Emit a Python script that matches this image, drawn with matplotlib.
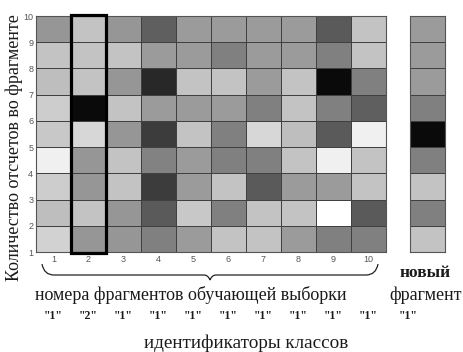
import numpy as np
import matplotlib
matplotlib.use("Agg")
import matplotlib.pyplot as plt
from matplotlib.patches import Rectangle, PathPatch
from matplotlib.path import Path

# gray level (0..255) of each cell, rows from top (10-9) to bottom (2-1), one list per fragment
fragments = [
    [150, 195, 190, 205, 200, 240, 205, 190, 210],
    [195, 195, 195, 10, 215, 150, 150, 195, 150],
    [150, 195, 150, 195, 150, 195, 195, 150, 150],
    [95, 155, 40, 155, 60, 130, 60, 90, 128],
    [155, 155, 195, 155, 195, 155, 155, 200, 155],
    [155, 128, 195, 155, 128, 128, 195, 128, 195],
    [155, 155, 155, 128, 215, 128, 90, 195, 195],
    [155, 155, 195, 195, 190, 195, 155, 195, 155],
    [90, 128, 10, 128, 90, 240, 155, 255, 128],
    [195, 195, 128, 95, 240, 195, 195, 90, 128],
]
new_fragment = [155, 155, 155, 128, 10, 128, 195, 128, 195]
class_ids = ["1", "2", "1", "1", "1", "1", "1", "1", "1", "1"]
new_class_id = "1"
selected = 2

W, H = 464, 352
fig = plt.figure(figsize=(W / 100, H / 100), dpi=100)
serif = "Liberation Serif"
sans = "Liberation Sans"

def px_axes(x0, y0, x1, y1):
    return fig.add_axes([x0 / W, 1 - y1 / H, (x1 - x0) / W, (y1 - y0) / H])

grid = np.array(fragments).T[::-1]  # rows bottom->top
ax = px_axes(36, 16, 386, 252)
xe = np.arange(0.5, len(fragments) + 1, 1.0)
ye = np.arange(1, 11)
ax.pcolormesh(xe, ye, grid, cmap="gray", vmin=0, vmax=255,
              edgecolors="#404040", linewidth=0.6)
ax.set_xlim(0.5, 10.5)
ax.set_ylim(1, 10)
ax.set_xticks(range(1, 11))
ax.set_yticks(range(1, 11))
ax.tick_params(length=0, labelsize=6.5, labelcolor="#555555", pad=2)
for lab in ax.get_xticklabels() + ax.get_yticklabels():
    lab.set_family(sans)
for s in ax.spines.values():
    s.set_color("#555555")
    s.set_linewidth(0.8)
ax.add_patch(Rectangle((selected - 0.5, 0.95), 1, 9.1, fill=False,
                       edgecolor="black", linewidth=2.3, clip_on=False, zorder=5))

ax2 = px_axes(410, 16, 445, 252)
ax2.pcolormesh([0, 1], ye, np.array(new_fragment)[::-1, None], cmap="gray",
               vmin=0, vmax=255, edgecolors="#404040", linewidth=0.6)
ax2.set_xticks([])
ax2.set_yticks([])
for s in ax2.spines.values():
    s.set_color("#555555")
    s.set_linewidth(0.8)

# overlay in pixel coordinates for annotations
ov = fig.add_axes([0, 0, 1, 1], zorder=-1)
ov.set_xlim(0, W)
ov.set_ylim(H, 0)
ov.axis("off")

verts = [(42, 264), (44, 275), (54, 275), (204, 275), (208, 275), (210, 280),
         (212, 275), (216, 275), (366, 275), (376, 275), (378, 264)]
codes = [Path.MOVETO, Path.CURVE3, Path.CURVE3, Path.LINETO, Path.CURVE3, Path.CURVE3,
         Path.CURVE3, Path.CURVE3, Path.LINETO, Path.CURVE3, Path.CURVE3]
ov.add_patch(PathPatch(Path(verts, codes), fill=False, edgecolor="#222222", lw=0.9))

tc = "#1a1a1a"
ov.text(14, 148, "Количество отсчетов во фрагменте", rotation=90, ha="center",
        va="center", family=serif, fontsize=13, color=tc)
ov.text(191, 295, "номера фрагментов обучающей выборки", ha="center", va="center",
        family=serif, fontsize=13, color=tc)
ov.text(425, 273, "новый", ha="center", va="center", family=serif,
        fontsize=12.5, weight="bold", color=tc)
ov.text(426, 295, "фрагмент", ha="center", va="center", family=serif,
        fontsize=13, color=tc)
for i, cid in enumerate(class_ids):
    ov.text(36 + 35 * (i + 0.5), 316, '"%s"' % cid, ha="center", va="center",
            family=serif, fontsize=8.5, weight="bold", color=tc)
ov.text(408, 316, '"%s"' % new_class_id, ha="center", va="center",
        family=serif, fontsize=8.5, weight="bold", color=tc)
ov.text(246, 343, "идентификаторы классов", ha="center", va="center",
        family=serif, fontsize=13.8, color=tc)

fig.savefig("out.png", dpi=100, facecolor="white")
